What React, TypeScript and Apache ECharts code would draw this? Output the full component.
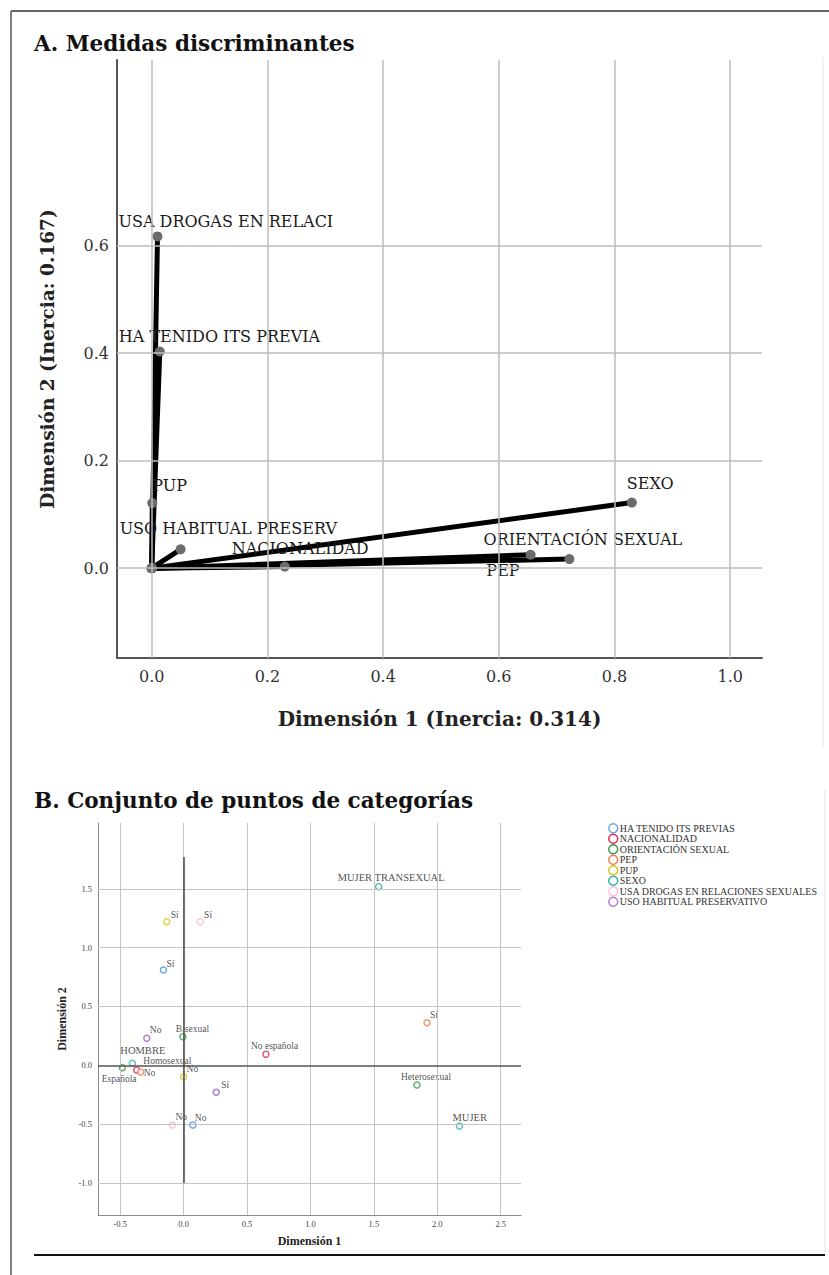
import React, { useEffect, useRef } from "react";
import * as echarts from "echarts";

// ---------- Panel A: discriminant measures ----------
const discVars = [
  "USA DROGAS EN RELACI",
  "HA TENIDO ITS PREVIA",
  "PUP",
  "USO HABITUAL PRESERV",
  "NACIONALIDAD",
  "ORIENTACIÓN SEXUAL",
  "PEP",
  "SEXO",
];
const discDim1 = [0.01, 0.014, 0.001, 0.05, 0.23, 0.655, 0.722, 0.83];
const discDim2 = [0.617, 0.403, 0.121, 0.035, 0.003, 0.025, 0.017, 0.122];
const aTicksX = [0, 0.2, 0.4, 0.6, 0.8, 1.0];
const aTicksY = [0, 0.2, 0.4, 0.6];
const aRangeX = [-0.06, 1.055];
const aRangeY = [-0.167, 0.945];

// ---------- Panel B: category points ----------
const catVariables = [
  "HA TENIDO ITS PREVIAS",
  "NACIONALIDAD",
  "ORIENTACIÓN SEXUAL",
  "PEP",
  "PUP",
  "SEXO",
  "USA DROGAS EN RELACIONES SEXUALES",
  "USO HABITUAL PRESERVATIVO",
];
const catLabels = [
  ["Sí", "No"],
  ["No española", "Española"],
  ["Heterosexual", "Bisexual", "Homosexual"],
  ["Sí", "No"],
  ["Sí", "No"],
  ["MUJER TRANSEXUAL", "MUJER", "HOMBRE"],
  ["Sí", "No"],
  ["No", "Sí"],
];
const catDim1 = [
  [-0.159, 0.073],
  [0.649, -0.37],
  [1.84, -0.006, -0.483],
  [1.919, -0.338],
  [-0.133, 0.0],
  [1.538, 2.175, -0.404],
  [0.13, -0.088],
  [-0.29, 0.257],
];
const catDim2 = [
  [0.81, -0.508],
  [0.094, -0.04],
  [-0.168, 0.243, -0.02],
  [0.362, -0.057],
  [1.221, -0.097],
  [1.519, -0.516, 0.017],
  [1.22, -0.508],
  [0.23, -0.23],
];
const bTicksX = [-0.5, 0, 0.5, 1.0, 1.5, 2.0, 2.5];
const bTicksY = [-1.0, -0.5, 0, 0.5, 1.0, 1.5];
const bRangeX = [-0.675, 2.66];
const bRangeY = [-1.273, 2.06];
const bRefVertical = [-1.0, 1.77];

// ---------- styling (not data) ----------
const catColors = ["#4a8fdc", "#e02a5c", "#3e9a4e", "#f07d4a", "#d6c81c", "#2fb2ab", "#f7b8d0", "#9d5cc9"];
const aLabelOffsets: Record<string, [number, number]> = {
  "USA DROGAS EN RELACI": [-39, -15],
  "HA TENIDO ITS PREVIA": [-41, -15],
  PUP: [0, -18],
  "USO HABITUAL PRESERV": [-61, -21],
  NACIONALIDAD: [-53, -18],
  "ORIENTACIÓN SEXUAL": [-47, -15],
  PEP: [-83, 11],
  SEXO: [-5, -19],
};
const bLabelOffsets: Record<string, [number, number]> = {
  "HA TENIDO ITS PREVIAS|Sí": [3, -6],
  "HA TENIDO ITS PREVIAS|No": [2, -7],
  "NACIONALIDAD|No española": [-15, -8],
  "NACIONALIDAD|Española": [-35, 9],
  "ORIENTACIÓN SEXUAL|Heterosexual": [-16, -8],
  "ORIENTACIÓN SEXUAL|Bisexual": [-7, -8],
  "ORIENTACIÓN SEXUAL|Homosexual": [21, -7],
  "PEP|Sí": [3, -8],
  "PEP|No": [3, 1],
  "PUP|Sí": [4, -7],
  "PUP|No": [3, -8],
  "SEXO|MUJER TRANSEXUAL": [-41, -9],
  "SEXO|MUJER": [-7, -8],
  "SEXO|HOMBRE": [-12, -13],
  "USA DROGAS EN RELACIONES SEXUALES|Sí": [4, -7],
  "USA DROGAS EN RELACIONES SEXUALES|No": [3, -8],
  "USO HABITUAL PRESERVATIVO|No": [3, -8],
  "USO HABITUAL PRESERVATIVO|Sí": [5, -7],
};

const SERIF_A = "DejaVu Serif";
const SERIF_B = "Liberation Serif";
const fmt = (v: number) => v.toFixed(1);

export default function App() {
  const ref = useRef<HTMLDivElement>(null);

  useEffect(() => {
    if (!ref.current) return;
    const chart = echarts.init(ref.current, null, { renderer: "svg" });

    const gridLineA = { color: "#bdbdbd", width: 1.5, type: "solid" };
    const gridLineB = { color: "#c4c4c4", width: 1, type: "solid" };

    const aSeries: any[] = discVars.map((name, i) => ({
      type: "line",
      name,
      xAxisIndex: 0,
      yAxisIndex: 0,
      z: 4,
      symbol: "circle",
      symbolSize: 10,
      itemStyle: { color: "#6b6b6b" },
      lineStyle: { color: "#000", width: 5, cap: "round" },
      label: { show: false },
      data: [
        [0, 0],
        {
          value: [discDim1[i], discDim2[i]],
          label: {
            show: true,
            formatter: name,
            position: "inside",
            align: "left",
            verticalAlign: "middle",
            offset: aLabelOffsets[name],
            fontFamily: SERIF_A,
            fontSize: 16,
            color: "#1a1a1a",
          },
        },
      ],
    }));

    const aGrid = {
      type: "line",
      name: "gridA",
      xAxisIndex: 0,
      yAxisIndex: 0,
      z: 1,
      showSymbol: false,
      symbol: "none",
      lineStyle: { opacity: 0 },
      data: [[0, 0]],
      silent: true,
      markLine: {
        silent: true,
        symbol: ["none", "none"],
        label: { show: false },
        lineStyle: gridLineA,
        data: [
          ...aTicksX.map((v) => ({ xAxis: v })),
          ...aTicksY.map((v) => ({ yAxis: v })),
        ],
      },
    };

    const bSeries: any[] = catVariables.map((name, i) => ({
      type: "scatter",
      name,
      xAxisIndex: 1,
      yAxisIndex: 1,
      z: 4,
      symbol: "circle",
      symbolSize: 6,
      itemStyle: { color: "#ffffff", borderColor: catColors[i], borderWidth: 1.5 },
      data: catLabels[i].map((lab, j) => ({
        value: [catDim1[i][j], catDim2[i][j]],
        label: {
          show: true,
          formatter: lab,
          position: "inside",
          align: "left",
          verticalAlign: "middle",
          offset: bLabelOffsets[name + "|" + lab] || [3, -8],
          fontFamily: SERIF_B,
          fontSize: lab === lab.toUpperCase() ? 10.5 : 9.5,
          color: "#222",
        },
      })),
    }));

    const bGrid = {
      type: "line",
      name: "gridB",
      xAxisIndex: 1,
      yAxisIndex: 1,
      z: 1,
      showSymbol: false,
      symbol: "none",
      lineStyle: { opacity: 0 },
      data: [[0, 0]],
      silent: true,
      markLine: {
        silent: true,
        symbol: ["none", "none"],
        label: { show: false },
        lineStyle: gridLineB,
        data: [
          ...bTicksX.map((v) => ({ xAxis: v })),
          ...bTicksY.filter((v) => v !== 0).map((v) => ({ yAxis: v })),
          { yAxis: 0, lineStyle: { color: "#555", width: 1.5 } },
          [
            { coord: [0, bRefVertical[0]], lineStyle: { color: "#444", width: 1.5 } },
            { coord: [0, bRefVertical[1]] },
          ],
        ],
      },
    };

    const option: any = {
      animation: false,
      backgroundColor: "#ffffff",
      grid: [
        { left: 117, top: 60, width: 645, height: 598 },
        { left: 98, top: 823, width: 423, height: 392 },
      ],
      xAxis: [
        {
          type: "value",
          gridIndex: 0,
          min: aRangeX[0],
          max: aRangeX[1],
          name: "Dimensión 1 (Inercia: 0.314)",
          nameLocation: "middle",
          nameGap: 51,
          nameTextStyle: { fontFamily: SERIF_A, fontWeight: "bold", fontSize: 20, color: "#222" },
          axisLine: { show: true, onZero: false, lineStyle: { color: "#555", width: 2 } },
          axisTick: { show: false },
          splitLine: { show: false },
          axisLabel: {
            customValues: aTicksX,
            formatter: fmt,
            margin: 10,
            fontFamily: SERIF_A,
            fontSize: 16,
            color: "#333",
          },
        },
        {
          type: "value",
          gridIndex: 1,
          min: bRangeX[0],
          max: bRangeX[1],
          name: "Dimensión 1",
          nameLocation: "middle",
          nameGap: 20,
          nameTextStyle: { fontFamily: SERIF_B, fontWeight: "bold", fontSize: 12, color: "#222" },
          axisLine: { show: true, onZero: false, lineStyle: { color: "#8a8a8a", width: 1 } },
          axisTick: { show: false },
          splitLine: { show: false },
          axisLabel: {
            customValues: bTicksX,
            formatter: fmt,
            margin: 4,
            fontFamily: SERIF_B,
            fontSize: 8.5,
            color: "#444",
          },
        },
      ],
      yAxis: [
        {
          type: "value",
          gridIndex: 0,
          min: aRangeY[0],
          max: aRangeY[1],
          name: "Dimensión 2 (Inercia: 0.167)",
          nameLocation: "middle",
          nameRotate: 90,
          nameGap: 60,
          nameTextStyle: { fontFamily: SERIF_A, fontWeight: "bold", fontSize: 18.5, color: "#222" },
          axisLine: { show: true, onZero: false, lineStyle: { color: "#555", width: 2 } },
          axisTick: { show: false },
          splitLine: { show: false },
          axisLabel: {
            customValues: aTicksY,
            formatter: fmt,
            margin: 8,
            fontFamily: SERIF_A,
            fontSize: 16,
            color: "#333",
          },
        },
        {
          type: "value",
          gridIndex: 1,
          min: bRangeY[0],
          max: bRangeY[1],
          name: "Dimensión 2",
          nameLocation: "middle",
          nameRotate: 90,
          nameGap: 24,
          nameTextStyle: { fontFamily: SERIF_B, fontWeight: "bold", fontSize: 12, color: "#222" },
          axisLine: { show: true, onZero: false, lineStyle: { color: "#8a8a8a", width: 1 } },
          axisTick: { show: false },
          splitLine: { show: false },
          axisLabel: {
            customValues: bTicksY,
            formatter: fmt,
            margin: 6,
            fontFamily: SERIF_B,
            fontSize: 8.5,
            color: "#444",
          },
        },
      ],
      legend: {
        data: catVariables.map((n, i) => ({
          name: n,
          icon: "circle",
          itemStyle: { color: "#ffffff", borderColor: catColors[i], borderWidth: 1.5 },
        })),
        orient: "vertical",
        left: 603,
        top: 818,
        itemWidth: 9,
        itemHeight: 9,
        itemGap: 0,
        textStyle: { fontFamily: SERIF_B, fontSize: 10, color: "#333", lineHeight: 10, padding: [0, 0, 0, -3] },
        selectedMode: false,
      },
      graphic: [
        { type: "line", shape: { x1: 11, y1: 11, x2: 829, y2: 11 }, style: { stroke: "#333", lineWidth: 1.5 } },
        { type: "line", shape: { x1: 11, y1: 11, x2: 11, y2: 1275 }, style: { stroke: "#555", lineWidth: 1.5 } },
        { type: "line", shape: { x1: 34, y1: 1255, x2: 825, y2: 1255 }, style: { stroke: "#111", lineWidth: 2 } },
        { type: "line", shape: { x1: 823, y1: 57, x2: 823, y2: 748 }, style: { stroke: "#eeeeee", lineWidth: 1.5 } },
        { type: "line", shape: { x1: 825, y1: 790, x2: 825, y2: 1252 }, style: { stroke: "#eeeeee", lineWidth: 1.5 } },
        {
          type: "text",
          x: 34,
          y: 43,
          style: {
            text: "A. Medidas discriminantes",
            font: `bold 21.5px "${SERIF_A}"`,
            fill: "#111",
            textVerticalAlign: "middle",
          },
        },
        {
          type: "text",
          x: 34,
          y: 800,
          style: {
            text: "B. Conjunto de puntos de categorías",
            font: `bold 21.5px "${SERIF_A}"`,
            fill: "#111",
            textVerticalAlign: "middle",
          },
        },
      ],
      series: [aGrid, ...aSeries, bGrid, ...bSeries],
    };

    chart.setOption(option);
    return () => chart.dispose();
  }, []);

  return (
    <div
      ref={ref}
      style={{ position: "absolute", left: 0, top: 0, width: 829, height: 1275, background: "#fff" }}
    />
  );
}
